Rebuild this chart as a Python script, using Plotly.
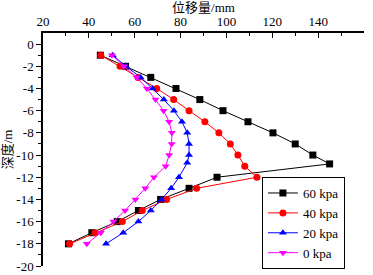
import plotly.graph_objects as go

depth_60 = [-1, -2, -3, -4, -5, -6, -7, -8, -9, -10, -10.8, -12, -13, -14, -15, -16, -17, -18]
disp_60 = [45, 56, 67, 78, 88.4, 98.5, 109.4, 120.3, 130, 137.7, 145, 95.9, 83.7, 71.3, 61.6, 52.4, 41.3, 31.1]

depth_40 = [-1, -2, -3, -4, -5, -6, -7, -8, -9, -10, -11, -12, -13, -14, -15, -16, -17, -18]
disp_40 = [45.2, 53.6, 61.5, 69.6, 77, 83.7, 90.6, 96.7, 101.7, 105, 108, 113.3, 87, 73.9, 63.3, 54.6, 42.7, 31.6]

depth_20 = [-1, -2, -3, -4, -5, -6, -7, -8, -9, -10, -10.7, -12, -13, -14, -15, -16, -17, -18]
disp_20 = [50.4, 56.2, 62.6, 67.8, 72.7, 77.1, 80.6, 82.9, 83.7, 83.7, 82.9, 79.3, 75.9, 71.7, 67, 61.6, 55, 47.5]

depth_0 = [-1, -2, -3, -4, -5, -6, -7, -8, -9, -10, -11, -12, -13, -14, -15, -16, -17, -18]
disp_0 = [50.1, 55.3, 60.8, 65.3, 69.1, 72.6, 75, 76.2, 76.1, 75, 73.5, 68.4, 64.6, 60.3, 55.8, 50.7, 45.2, 39.1]

x_ticks = [20, 40, 60, 80, 100, 120, 140, 160]
y_ticks = [0, -2, -4, -6, -8, -10, -12, -14, -16, -18, -20]
y_tick_text = ["0", "-2", "-4", "-6", "-8", "-10", "-12", "-14", "-16", "-18", "-20"]
y_minor = [-1, -3, -5, -7, -9, -11, -13, -15, -17, -19]

series = [
    ("60 kpa", disp_60, depth_60, "#000000", "square"),
    ("40 kpa", disp_40, depth_40, "#FF0000", "circle"),
    ("20 kpa", disp_20, depth_20, "#0000FF", "triangle-up"),
    ("0 kpa", disp_0, depth_0, "#FF00FF", "triangle-down"),
]

SERIF = "Liberation Serif"
TITLE_FONT = "Liberation Serif, Noto Sans CJK SC"

fig = go.Figure()
for name, xs, ys, col, sym in series:
    fig.add_trace(go.Scatter(
        x=xs, y=ys, name=name, mode="lines+markers",
        line=dict(color=col, width=1),
        marker=dict(symbol=sym, color=col, size=7),
    ))

fig.update_layout(
    width=373, height=275,
    margin=dict(l=43, r=9, t=33, b=6),
    paper_bgcolor="white", plot_bgcolor="white",
    font=dict(family=SERIF, size=13, color="black"),
    showlegend=True,
    legend=dict(
        x=0.682, y=-0.013, xanchor="left", yanchor="bottom",
        bordercolor="black", borderwidth=1, bgcolor="white",
        font=dict(family=SERIF, size=13, color="black"),
        tracegroupgap=0, itemwidth=30,
    ),
)

fig.update_xaxes(
    side="top", range=[20, 160], tickvals=x_ticks,
    tickfont=dict(family=SERIF, size=13, color="black"),
    ticks="inside", ticklen=5, tickwidth=1, tickcolor="black",
    minor=dict(ticks="inside", dtick=10, ticklen=3, tickcolor="black"),
    showline=True, linecolor="black", linewidth=1.5, mirror=False,
    showgrid=False, zeroline=False, automargin=False,
    title=dict(text="位移量/mm", font=dict(family=TITLE_FONT, size=13, color="black")),
)
fig.update_yaxes(
    range=[-20, 1], tickvals=y_ticks, ticktext=y_tick_text,
    tickfont=dict(family=SERIF, size=13, color="black"),
    ticks="outside", ticklen=5, tickwidth=1, tickcolor="black",
    minor=dict(ticks="outside", tickvals=y_minor, ticklen=3, tickcolor="black"),
    showline=True, linecolor="black", linewidth=1.5, mirror=False,
    showgrid=False, zeroline=False, automargin=False,
    title=dict(text="深度/m", font=dict(family=TITLE_FONT, size=13, color="black")),
)

fig.write_html("out.html", config={"displayModeBar": False},
               post_script="document.body.style.margin='0';")
